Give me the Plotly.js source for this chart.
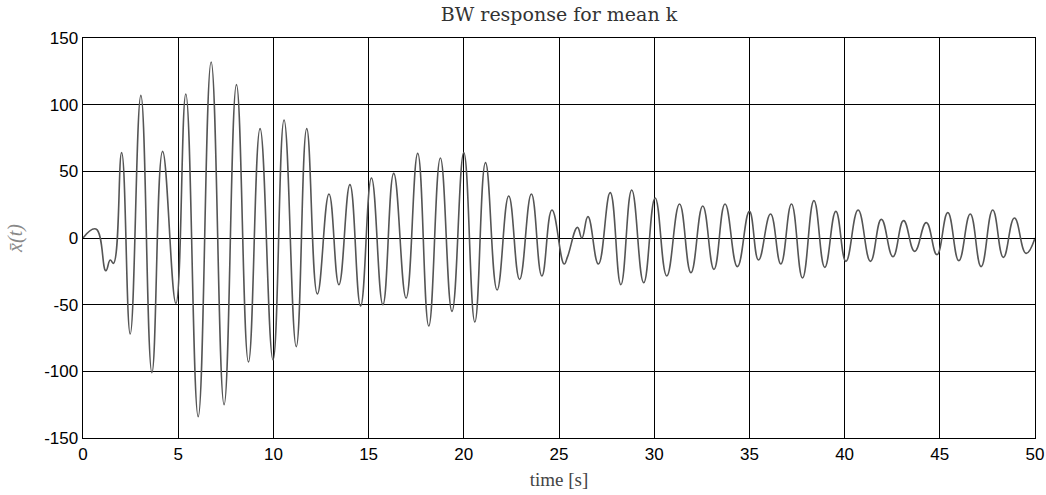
<!DOCTYPE html>
<html>
<head>
<meta charset="utf-8">
<script src="https://cdn.plot.ly/plotly-3.0.1.min.js"></script>
<style>
html, body { margin: 0; padding: 0; background: #fff; }
#chart { width: 1046px; height: 495px; }
</style>
</head>
<body>
<div id="chart"></div>
<script>
// Extrema of the response (time in s, value)
const time = [0, 0.68, 1.2, 1.43, 1.6, 2.03, 2.48, 3.04, 3.62, 4.18, 4.88, 5.40, 6.05, 6.73, 7.41, 8.06, 8.69, 9.30, 9.98, 10.56, 11.2, 11.75, 12.31, 12.92, 13.44, 14.02, 14.58, 15.15, 15.75, 16.32, 16.97, 17.58, 18.16, 18.77, 19.38, 20.0, 20.58, 21.14, 21.75, 22.36, 22.93, 23.55, 24.1, 24.63, 25.27, 25.45, 25.97, 26.2, 26.52, 27.07, 27.69, 28.25, 28.82, 29.45, 30.05, 30.66, 31.33, 31.93, 32.55, 33.14, 33.72, 34.37, 35.0, 35.48, 36.11, 36.65, 37.21, 37.79, 38.39, 38.96, 39.54, 40.07, 40.71, 41.36, 41.93, 42.54, 43.1, 43.68, 44.29, 44.85, 45.42, 46.0, 46.6, 47.17, 47.78, 48.34, 48.92, 49.53, 50];
const xbar = [0, 6.7, -24.5, -16.5, -19, 64, -72, 107, -101, 65, -49, 108, -134, 132, -125, 115, -93, 82, -91.5, 88.5, -81.5, 82, -42, 33, -35, 40, -51, 45, -50, 48.5, -45, 63.5, -66, 60, -55, 64, -63, 56.5, -39, 31.5, -31, 33, -28.5, 21, -19.5, -14, 8, 0, 16, -19.5, 34, -35, 36, -33.5, 30, -28.5, 25.5, -26, 24, -23.5, 25.5, -21.5, 20, -16.5, 18, -19.5, 25.5, -30, 28, -22, 20, -17.5, 21, -17.5, 14, -14, 13, -10, 11.5, -12.5, 19, -17, 18, -21.5, 21, -14.5, 15, -11.5, 0];

const xTicks = [0, 5, 10, 15, 20, 25, 30, 35, 40, 45, 50];
const yTicks = [-150, -100, -50, 0, 50, 100, 150];

const titleText = 'BW response for mean k';
const xTitle = 'time [s]';
const yTitle = 'x\u0304(t)';

const trace = {
  x: time,
  y: xbar,
  type: 'scatter',
  mode: 'lines',
  line: { color: '#555555', width: 1.6, shape: 'spline', smoothing: 1.3 },
  hoverinfo: 'x+y'
};

const axisCommon = {
  showgrid: true,
  gridcolor: '#000000',
  gridwidth: 1,
  zeroline: false,
  showline: true,
  linecolor: '#000000',
  linewidth: 1.4,
  mirror: 'ticks',
  ticks: 'inside',
  ticklen: 4,
  tickcolor: '#000000',
  tickfont: { family: 'Liberation Sans, Arial, sans-serif', size: 17, color: '#000000' }
};

const layout = {
  width: 1046,
  height: 495,
  paper_bgcolor: '#ffffff',
  plot_bgcolor: '#ffffff',
  showlegend: false,
  margin: { l: 83, r: 11, t: 38, b: 57 },
  title: {
    text: titleText,
    font: { family: 'DejaVu Serif, Liberation Serif, serif', size: 19, color: '#333333' },
    x: 0.5, xref: 'paper', xanchor: 'center',
    y: 1 - 14 / 495, yref: 'container', yanchor: 'middle'
  },
  xaxis: Object.assign({}, axisCommon, {
    range: [0, 50],
    tickvals: xTicks,
    ticktext: xTicks.map(String),
    title: { text: xTitle, standoff: 10,
      font: { family: 'Liberation Serif, Times New Roman, serif', size: 19, color: '#444444' } }
  }),
  yaxis: Object.assign({}, axisCommon, {
    range: [-150, 150],
    tickvals: yTicks,
    ticktext: yTicks.map(String),
    title: { text: yTitle, standoff: 16,
      font: { family: 'Liberation Serif, Times New Roman, serif', size: 20, color: '#888888', style: 'italic' } }
  })
};

Plotly.newPlot('chart', [trace], layout, { displayModeBar: false, staticPlot: true });
</script>
</body>
</html>
